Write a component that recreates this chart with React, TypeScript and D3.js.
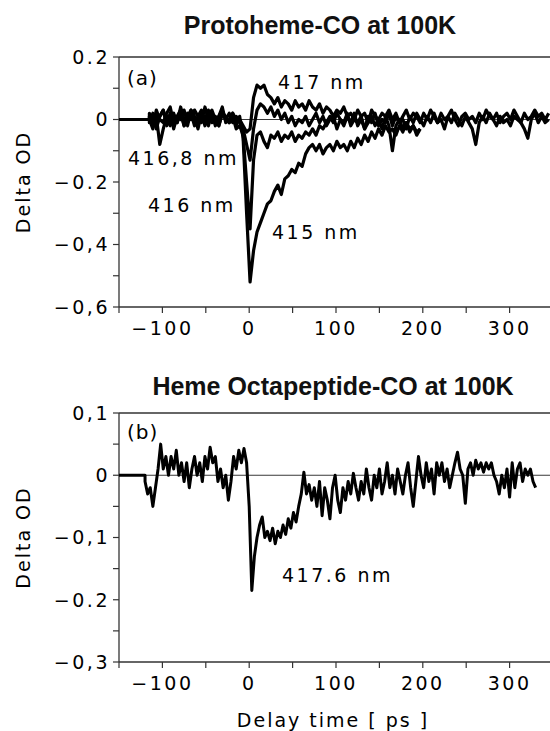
import React, { useEffect, useRef } from 'react';
import * as d3 from 'd3';

// sampling of the recorded traces (ps)
const startA = -115;
const stepA = 4;
const startB = -120;
const stepB = 3;
const leadIn = -150;

// panel (a): protoheme-CO, four probe wavelengths
const od417 = [
  0.01, -0.02, 0.03, 0.00, -0.01, 0.02, 0.04, -0.01, 0.01, 0.03, -0.02, 0.02, 0.00, 0.03,
  0.01, -0.01, 0.04, 0.00, 0.02, -0.02, 0.01, 0.03, 0.00, 0.02, -0.01, 0.01, 0.00, -0.02,
  -0.04, -0.03, 0.07, 0.11, 0.10, 0.11, 0.08, 0.07, 0.05, 0.07, 0.04, 0.06, 0.05, 0.03,
  0.06, 0.04, 0.05, 0.03, 0.06, 0.04, 0.03, 0.05, 0.02, 0.04, 0.03, 0.01, 0.03, 0.02,
  0.04, 0.01, 0.02, 0.00, 0.03, 0.01, 0.02, -0.01, 0.03, 0.01, 0.00, 0.02, 0.01, 0.03,
  0.00, 0.02, -0.01, 0.01, 0.03, 0.00, 0.02, 0.01, -0.01, 0.02, 0.00, 0.03, 0.01, -0.01,
  0.02, 0.00, 0.01, 0.03, 0.00, -0.02, 0.01, 0.02, 0.00, 0.01, -0.01, 0.02, 0.00, 0.03,
  0.01, 0.00, 0.02, -0.01, 0.01, 0.02, 0.00, 0.03, 0.01, -0.01, 0.02, 0.00, 0.01, 0.03,
  0.01, 0.02, 0.00, 0.02,
];
const od4168 = [
  0.00, -0.03, 0.01, -0.08, -0.03, 0.01, -0.02, 0.01, -0.01, 0.02, -0.02, 0.01, 0.03, -0.01,
  0.00, 0.02, -0.02, 0.01, 0.03, 0.00, -0.02, 0.02, 0.01, -0.01, 0.02, 0.00, -0.01, -0.03,
  -0.08, -0.13, -0.03, 0.03, 0.05, 0.04, 0.02, 0.04, 0.01, 0.03, 0.00, 0.02, -0.01, 0.01,
  -0.02, 0.00, -0.01, 0.01, -0.02, 0.00, 0.02, -0.01, 0.01, -0.02, 0.00, 0.01, -0.03, 0.00,
  -0.01, 0.02, -0.02, 0.00, -0.01, 0.01, -0.03, -0.01, 0.01, -0.02, 0.00, -0.03, 0.01, -0.02,
  -0.10, -0.02, 0.00, -0.03, -0.01, -0.04, -0.02, -0.05, -0.03,
];
const od416 = [
  -0.01, 0.02, -0.03, 0.01, 0.03, -0.02, 0.00, 0.02, -0.01, 0.04, 0.00, -0.02, 0.03, 0.01,
  -0.03, 0.02, 0.00, 0.03, -0.01, 0.01, -0.02, 0.02, 0.00, -0.01, 0.01, -0.03, -0.02, -0.05,
  -0.20, -0.35, -0.13, -0.05, -0.04, -0.07, -0.09, -0.05, -0.06, -0.04, -0.07, -0.05, -0.06, -0.04,
  -0.07, -0.05, -0.06, -0.04, -0.05, -0.03, -0.05, -0.02, -0.03, -0.01, 0.01, -0.01, 0.02, 0.00,
  -0.02, 0.01, -0.01, 0.02, -0.02, 0.00, -0.03, 0.01, -0.01, 0.02, -0.02, 0.00, -0.01, 0.02,
  -0.02, 0.01, -0.01, 0.00, -0.03, 0.01, -0.01, 0.02, 0.00, -0.02, 0.01, -0.01, 0.02, -0.01,
  0.00, -0.03, 0.01, -0.01, 0.02, 0.00, -0.02, 0.01, -0.01, -0.03, -0.08, -0.01, 0.01, -0.01,
  0.02, 0.00, -0.02, 0.01, -0.01, 0.00, -0.02, 0.01, 0.00, -0.01, -0.03, -0.06, 0.00, 0.02,
  -0.01, 0.01, -0.01, 0.00,
];
const od415 = [
  0.02, 0.00, -0.02, 0.01, 0.03, -0.01, 0.02, -0.03, 0.01, 0.00, 0.03, -0.01, 0.02, -0.02,
  0.01, 0.03, 0.00, -0.02, 0.02, -0.01, 0.01, 0.04, -0.01, 0.00, 0.02, -0.02, 0.01, -0.06,
  -0.30, -0.52, -0.42, -0.36, -0.33, -0.30, -0.27, -0.26, -0.23, -0.21, -0.24, -0.19, -0.18, -0.16,
  -0.17, -0.14, -0.15, -0.11, -0.09, -0.08, -0.10, -0.08, -0.11, -0.09, -0.08, -0.10, -0.07, -0.09,
  -0.08, -0.10, -0.07, -0.09, -0.06, -0.08, -0.05, -0.07, -0.04, -0.06, -0.03, -0.05, -0.02, -0.04,
  -0.03, -0.05, -0.02, -0.04, -0.01, -0.03, -0.02, -0.04, -0.03,
];

// panel (b): heme octapeptide-CO at 417.6 nm
const od4176 = [
  -0.01, -0.03, -0.02, -0.05, -0.02, 0.01, 0.05, 0.01, 0.03, 0.00, 0.03, 0.01, 0.04, 0.00,
  0.02, -0.01, 0.02, -0.02, 0.01, 0.03, 0.00, 0.02, -0.01, 0.03, 0.01, 0.045, 0.02, 0.03,
  -0.01, 0.01, -0.02, 0.00, -0.04, -0.01, 0.03, 0.01, 0.04, 0.02, 0.043, 0.02, -0.05, -0.185,
  -0.13, -0.10, -0.08, -0.067, -0.10, -0.09, -0.105, -0.085, -0.11, -0.09, -0.10, -0.08, -0.095, -0.07,
  -0.085, -0.06, -0.075, -0.05, -0.03, 0.005, -0.03, -0.015, -0.04, -0.02, -0.05, -0.01, -0.065, -0.02,
  -0.04, -0.07, -0.02, 0.00, -0.04, -0.06, -0.02, -0.04, -0.01, -0.03, 0.003, -0.02, -0.04, -0.01,
  -0.03, 0.01, -0.02, -0.04, 0.00, -0.02, 0.01, -0.03, -0.01, 0.02, -0.02, 0.00, -0.03, 0.01,
  -0.01, -0.03, 0.00, 0.02, -0.02, -0.05, -0.01, 0.03, 0.00, -0.02, 0.02, -0.01, 0.01, -0.03,
  0.02, 0.00, 0.02, -0.01, 0.01, -0.02, 0.00, 0.02, 0.037, 0.01, 0.00, -0.045, 0.01, 0.02,
  0.00, 0.024, 0.01, 0.02, 0.005, 0.02, 0.01, 0.02, 0.00, -0.01, -0.03, 0.00, -0.02, 0.01,
  -0.035, 0.02, -0.02, 0.01, 0.02, -0.01, 0.01, 0.00, 0.01, -0.01, -0.02,
];

const xTicks = [-100, 0, 100, 200, 300];
const xTickLabels = ['\u2212100', '0', '100', '200', '300'];
const xMinor = [-50, 50, 150, 250];

const yTicksA = [0.2, 0, -0.2, -0.4, -0.6];
const yTickLabelsA = ['0.2', '0', '\u22120.2', '\u22120,4', '\u22120,6'];
const yMinorA = [0.1, -0.1, -0.3, -0.5];

const yTicksB = [0.1, 0, -0.1, -0.2, -0.3];
const yTickLabelsB = ['0,1', '0', '\u22120,1', '\u22120.2', '\u22120,3'];
const yMinorB = [0.05, -0.05, -0.15, -0.25];

type Trace = { start: number; step: number; values: number[] };
type Note = { text: string; x: number; y: number };

const FONT = '"DejaVu Sans", sans-serif';

const App = () => {
  const svgRef = useRef<SVGSVGElement>(null);

  useEffect(() => {
    const svg = d3.select(svgRef.current);
    svg.selectAll('*').remove();

    const x = d3.scaleLinear().domain([-150, 350]).range([119, 553]);

    const drawPanel = (
      title: string,
      titleX: number,
      titleY: number,
      yDomain: [number, number],
      yRange: [number, number],
      yTicks: number[],
      yLabels: string[],
      yMinor: number[],
      traces: Trace[],
      traceWidth: number,
      notes: Note[],
      tag: string,
      tagY: number
    ) => {
      const y = d3.scaleLinear().domain(yDomain).range(yRange);
      const g = svg.append('g');
      const [bottom, top] = yRange;

      g.append('text')
        .attr('x', titleX)
        .attr('y', titleY)
        .attr('text-anchor', 'middle')
        .attr('font-family', '"Liberation Sans", Arial, sans-serif')
        .attr('font-weight', 'bold')
        .attr('font-size', 25)
        .attr('fill', '#111')
        .text(title);

      // frame
      g.append('line').attr('x1', 119).attr('x2', 119).attr('y1', top).attr('y2', bottom)
        .attr('stroke', '#333').attr('stroke-width', 1.3);
      g.append('line').attr('x1', 119).attr('x2', 550).attr('y1', top).attr('y2', top)
        .attr('stroke', '#333').attr('stroke-width', 1.3);
      g.append('line').attr('x1', 119).attr('x2', 550).attr('y1', bottom).attr('y2', bottom)
        .attr('stroke', '#333').attr('stroke-width', 1.3);
      g.append('line').attr('x1', 119).attr('x2', 550).attr('y1', y(0)).attr('y2', y(0))
        .attr('stroke', '#222').attr('stroke-width', 0.9);

      // y ticks
      [...yTicks, ...yMinor].forEach(v => {
        g.append('line').attr('x1', 113).attr('x2', 119).attr('y1', y(v)).attr('y2', y(v))
          .attr('stroke', '#333').attr('stroke-width', 1.2);
      });
      yTicks.forEach((v, i) => {
        g.append('text')
          .attr('x', 110)
          .attr('y', y(v))
          .attr('dy', '0.36em')
          .attr('text-anchor', 'end')
          .attr('font-family', FONT)
          .attr('font-size', 19)
          .attr('letter-spacing', 2.5)
          .text(yLabels[i]);
      });

      // x ticks
      [-150, ...xTicks, ...xMinor].forEach(v => {
        g.append('line').attr('x1', x(v)).attr('x2', x(v)).attr('y1', bottom).attr('y2', bottom + 6)
          .attr('stroke', '#333').attr('stroke-width', 1.2);
      });
      xTicks.forEach((v, i) => {
        g.append('text')
          .attr('x', x(v))
          .attr('y', bottom + 28)
          .attr('text-anchor', 'middle')
          .attr('font-family', FONT)
          .attr('font-size', 19)
          .attr('letter-spacing', 2.5)
          .text(xTickLabels[i]);
      });

      g.append('text')
        .attr('transform', `translate(30, ${(top + bottom) / 2}) rotate(-90)`)
        .attr('text-anchor', 'middle')
        .attr('font-family', FONT)
        .attr('font-size', 19)
        .attr('letter-spacing', 2)
        .text('Delta OD');

      // traces
      const line = d3.line<[number, number]>()
        .x(d => x(d[0]))
        .y(d => y(d[1]))
        .curve(d3.curveLinear);

      traces.forEach(tr => {
        const pts: [number, number][] = [[leadIn, 0], [tr.start, 0]];
        tr.values.forEach((v, i) => pts.push([tr.start + i * tr.step, v]));
        g.append('path')
          .attr('d', line(pts))
          .attr('fill', 'none')
          .attr('stroke', '#000')
          .attr('stroke-width', traceWidth)
          .attr('stroke-linejoin', 'round');
      });

      g.append('text')
        .attr('x', 127)
        .attr('y', tagY)
        .attr('font-family', FONT)
        .attr('font-size', 20)
        .attr('letter-spacing', 1)
        .text(tag);

      notes.forEach(n => {
        g.append('text')
          .attr('x', n.x)
          .attr('y', n.y)
          .attr('font-family', FONT)
          .attr('font-size', 19)
          .attr('letter-spacing', 2.5)
          .text(n.text);
      });
    };

    drawPanel(
      'Protoheme-CO at 100K', 320, 34, [-0.6, 0.2], [307, 57],
      yTicksA, yTickLabelsA, yMinorA,
      [
        { start: startA, step: stepA, values: od417 },
        { start: startA, step: stepA, values: od4168 },
        { start: startA, step: stepA, values: od416 },
        { start: startA, step: stepA, values: od415 },
      ],
      3.2,
      [
        { text: '417 nm', x: 278, y: 89 },
        { text: '416,8 nm', x: 128, y: 165 },
        { text: '416 nm', x: 148, y: 212 },
        { text: '415 nm', x: 272, y: 239 },
      ],
      '(a)', 85
    );

    drawPanel(
      'Heme Octapeptide-CO at 100K', 333, 395, [-0.3, 0.1], [662, 413],
      yTicksB, yTickLabelsB, yMinorB,
      [{ start: startB, step: stepB, values: od4176 }],
      3,
      [{ text: '417.6 nm', x: 282, y: 582 }],
      '(b)', 439
    );

    svg.append('text')
      .attr('x', 333)
      .attr('y', 727)
      .attr('text-anchor', 'middle')
      .attr('font-family', FONT)
      .attr('font-size', 19)
      .attr('letter-spacing', 2)
      .text('Delay time [ ps ]');
  }, []);

  return (
    <div style={{ position: 'absolute', left: 0, top: 0 }}>
      <svg ref={svgRef} width={550} height={731} style={{ display: 'block', background: '#fff' }} />
    </div>
  );
};

export default App;
